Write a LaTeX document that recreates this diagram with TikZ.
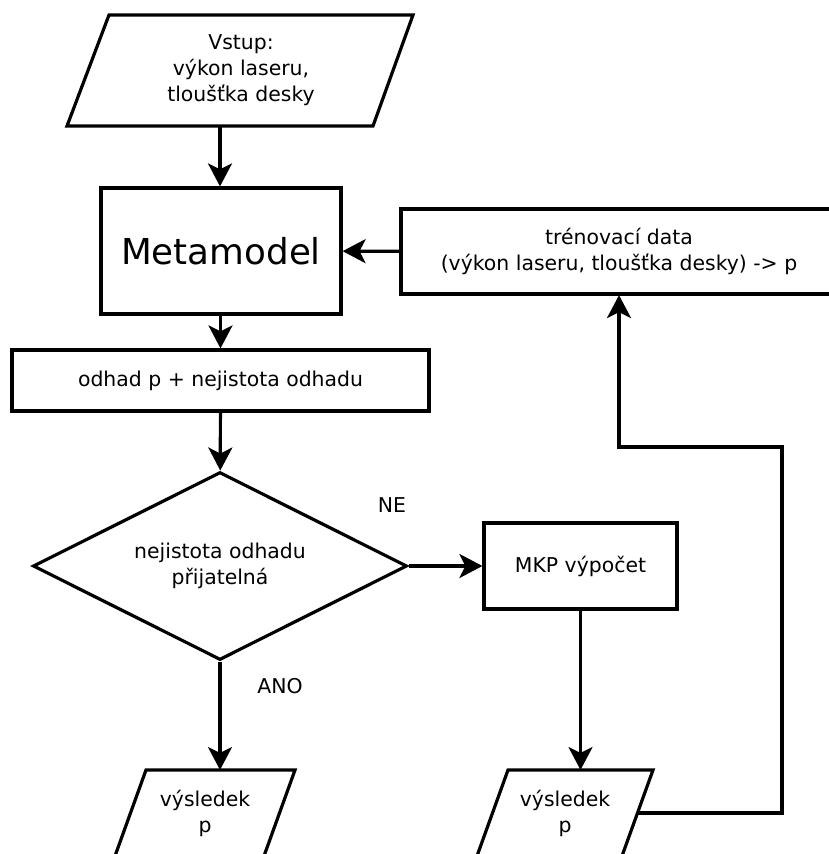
\documentclass[tikz,border=0pt]{standalone}
\usepackage{fontspec}
\setmainfont{DejaVu Sans}
\usetikzlibrary{shapes.geometric,arrows.meta}
\begin{document}
\begin{tikzpicture}[x=1pt,y=-1pt,
  every node/.style={font=\fontsize{20.4}{26}\selectfont, align=center, inner sep=0pt},
  outline/.style={draw, line width=3.2pt, line join=miter},
  box/.style={outline, rectangle},
  decision/.style={outline, diamond, aspect=2},
  arr/.style={line width=3.2pt, -{Stealth[length=23pt,width=24pt,inset=6pt]}},
]
\useasboundingbox (0,0) rectangle (829,854);
\clip (0,0) rectangle (829,854);

% input data (parallelogram)
\draw[outline] (109,15) -- (413,15) -- (373,126) -- (67,126) -- cycle;
\node (input) at (241,70.5) {Vstup:\\výkon laseru,\\tloušťka desky};
\coordinate (inputOut) at (220,126);

% surrogate model and its training set
\node[box, minimum width=240pt, minimum height=126pt,
  font=\fontsize{35.7}{40}\selectfont] (meta) at (221,251) {Metamodel};
\node[box, minimum width=436pt, minimum height=85pt] (train) at (619,251.5)
  {trénovací data\\(výkon laseru, tloušťka desky) -> p};

% estimate and decision
\node[box, minimum width=417pt, minimum height=61pt] (estimate) at (220.5,380.5)
  {odhad p + nejistota odhadu};
\node[decision, minimum width=374pt, minimum height=188pt] (check) at (220,566)
  {nejistota odhadu\\přijatelná};

% FEM branch
\node[box, minimum width=193pt, minimum height=86pt] (fem) at (580.5,566) {MKP výpočet};

% results (parallelograms)
\draw[outline] (146,770) -- (295,770) -- (264,856) -- (115,856) -- cycle;
\node (resA) at (205,813) {výsledek\\p};
\coordinate (resAIn) at (220.5,770);
\draw[outline] (508,770) -- (653,770) -- (622,856) -- (477,856) -- cycle;
\node (resB) at (565,813) {výsledek\\p};
\coordinate (resBIn) at (580.5,770);
\coordinate (resBOut) at (637.5,813);

% branch labels
\node (ne) at (392,505) {NE};
\node (ano) at (280,686) {ANO};

% connectors
\draw[arr] (inputOut) -- (inputOut |- meta.north);
\draw[arr] (train) -- (meta);
\draw[arr] (estimate.north |- meta.south) -- (estimate.north);
\draw[arr] (estimate) -- (check);
\draw[arr] (check.east) -- (fem);
\draw[arr] (check.south) -- (check.south |- resAIn);
\draw[arr] (resBIn |- fem.south) -- (resBIn);
\coordinate (loop) at (782,447);
\draw[arr, shorten >=-0.5pt] (resBOut) -| (loop) -| (train.south);
\end{tikzpicture}
\end{document}
